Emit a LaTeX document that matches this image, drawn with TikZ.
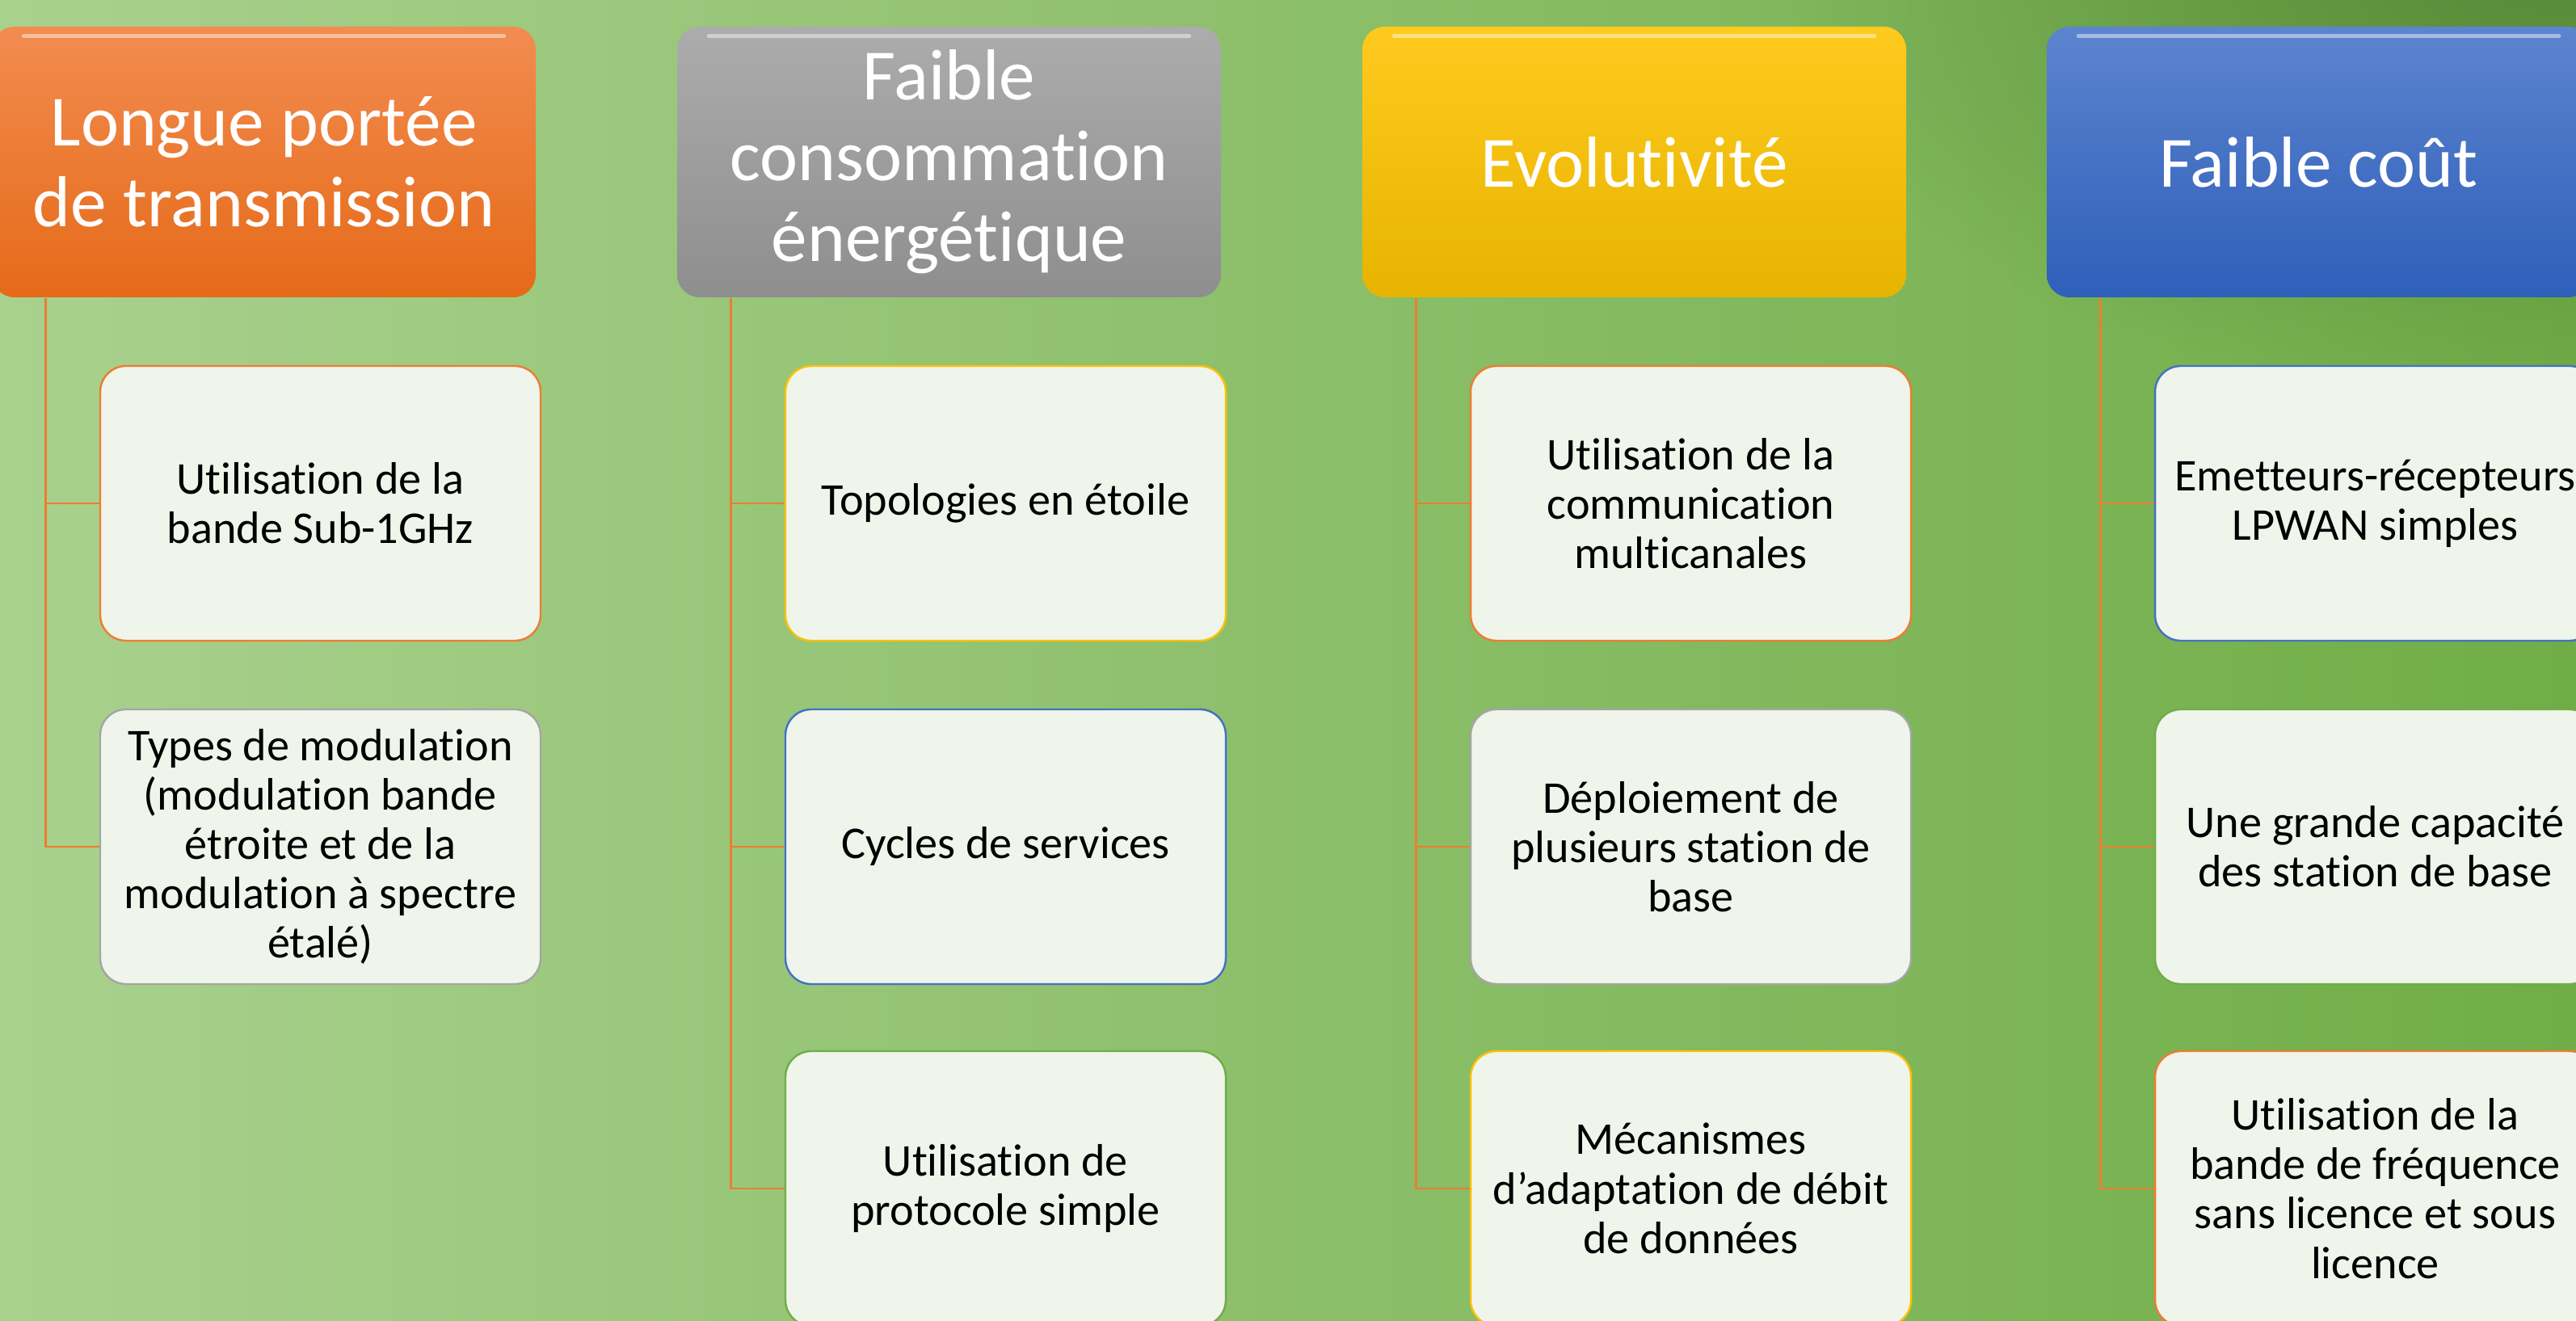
\documentclass[tikz,border=0pt]{standalone}
\usepackage{fontspec}
\setmainfont{Carlito}[Ligatures=NoCommon]
\usetikzlibrary{fadings}

\definecolor{fondG}{RGB}{169,209,142}
\definecolor{fondD}{RGB}{112,173,71}
\definecolor{fondS}{RGB}{84,132,54}
\definecolor{carte}{RGB}{240,245,236}
\definecolor{accOrange}{RGB}{237,125,49}
\definecolor{accGris}{RGB}{165,165,165}
\definecolor{accOr}{RGB}{255,192,0}
\definecolor{accBleu}{RGB}{68,114,196}
\definecolor{accVert}{RGB}{112,173,71}

\tikzfading[name=halo,inner color=transparent!0,outer color=transparent!100]

\begin{document}
\begin{tikzpicture}[
  titre/.style={rectangle,rounded corners=0.28cm,minimum width=6.73cm,minimum height=3.35cm,
    inner sep=0pt,align=center,text=white,font=\fontsize{25.4}{28.5}\selectfont},
  bloc/.style={rectangle,rounded corners=0.32cm,draw=#1,line width=0.7pt,fill=carte,
    minimum width=5.45cm,minimum height=3.4cm,inner sep=0pt,align=center,
    font=\fontsize{16}{17.4}\selectfont},
  lien/.style={accOrange,line width=0.8pt},
  reflet/.style={white,opacity=0.45,line width=1.5pt,line cap=round}]
  \clip (0,0) rectangle (31.88,16.34);
  % fond
  \shade[left color=fondG,right color=fondD] (0,0) rectangle (31.88,16.34);
  \fill[fondS,fill opacity=0.85,path fading=halo] (31.5,16.8) ellipse (9.5 and 5.5);

  % en-tetes
  \node[titre,top color={rgb,255:red,242;green,140;blue,80},bottom color={rgb,255:red,229;green,106;blue,24}] (t1) at (3.265,14.335) {Longue portée\\de transmission};
  \node[titre,top color={rgb,255:red,172;green,172;blue,172},bottom color={rgb,255:red,142;green,142;blue,142}] (t2) at (11.745,14.335) {Faible\\consommation\\énergétique};
  \node[titre,top color={rgb,255:red,255;green,202;blue,30},bottom color={rgb,255:red,230;green,180;blue,0}] (t3) at (20.225,14.335) {Evolutivité};
  \node[titre,top color={rgb,255:red,93;green,132;blue,206},bottom color={rgb,255:red,46;green,95;blue,186}] (t4) at (28.695,14.335) {Faible coût};
  \draw[reflet] ([xshift=4mm,yshift=-1.2mm]t1.north west) -- ([xshift=-4mm,yshift=-1.2mm]t1.north east);
  \draw[reflet] ([xshift=4mm,yshift=-1.2mm]t2.north west) -- ([xshift=-4mm,yshift=-1.2mm]t2.north east);
  \draw[reflet] ([xshift=4mm,yshift=-1.2mm]t3.north west) -- ([xshift=-4mm,yshift=-1.2mm]t3.north east);
  \draw[reflet] ([xshift=4mm,yshift=-1.2mm]t4.north west) -- ([xshift=-4mm,yshift=-1.2mm]t4.north east);

  % colonne 1
  \node[bloc=accOrange] (b11) at (3.965,10.11) {Utilisation de la\\bande Sub-1GHz};
  \node[bloc=accGris] (b12) at (3.965,5.86) {Types de modulation\\(modulation bande\\étroite et de la\\modulation à spectre\\étalé)};
  % colonne 2
  \node[bloc=accOr] (b21) at (12.445,10.11) {Topologies en étoile};
  \node[bloc=accBleu] (b22) at (12.445,5.86) {Cycles de services};
  \node[bloc=accVert] (b23) at (12.445,1.63) {Utilisation de\\protocole simple};
  % colonne 3
  \node[bloc=accOrange] (b31) at (20.925,10.11) {Utilisation de la\\communication\\multicanales};
  \node[bloc=accGris] (b32) at (20.925,5.86) {Déploiement de\\plusieurs station de\\base};
  \node[bloc=accOr] (b33) at (20.925,1.63) {Mécanismes\\d’adaptation de débit\\de données};
  % colonne 4
  \node[bloc=accBleu] (b41) at (29.395,10.11) {Emetteurs-récepteurs\\LPWAN simples};
  \node[bloc=accVert] (b42) at (29.395,5.86) {Une grande capacité\\des station de base};
  \node[bloc=accOrange] (b43) at (29.395,1.63) {Utilisation de la\\bande de fréquence\\sans licence et sous\\licence};

  % liaisons
  \draw[lien] ([xshift=6.7mm]t1.south west) |- (b11.west);
  \draw[lien] ([xshift=6.7mm]t1.south west) |- (b12.west);
  \draw[lien] ([xshift=6.7mm]t2.south west) |- (b21.west);
  \draw[lien] ([xshift=6.7mm]t2.south west) |- (b22.west);
  \draw[lien] ([xshift=6.7mm]t2.south west) |- (b23.west);
  \draw[lien] ([xshift=6.7mm]t3.south west) |- (b31.west);
  \draw[lien] ([xshift=6.7mm]t3.south west) |- (b32.west);
  \draw[lien] ([xshift=6.7mm]t3.south west) |- (b33.west);
  \draw[lien] ([xshift=6.7mm]t4.south west) |- (b41.west);
  \draw[lien] ([xshift=6.7mm]t4.south west) |- (b42.west);
  \draw[lien] ([xshift=6.7mm]t4.south west) |- (b43.west);
\end{tikzpicture}
\end{document}
